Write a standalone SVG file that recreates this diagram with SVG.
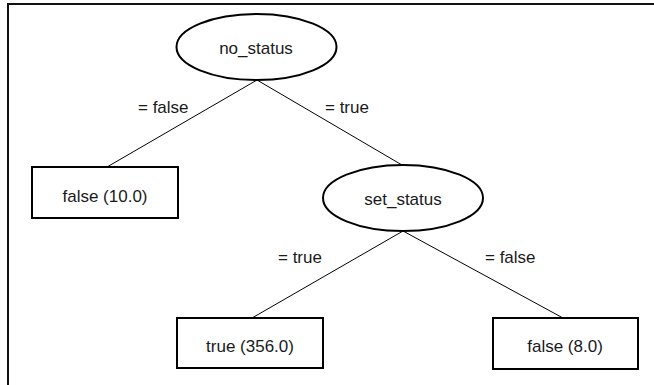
<svg xmlns="http://www.w3.org/2000/svg" width="654" height="385" viewBox="0 0 654 385">
<style>
.shape{fill:#fff;stroke:#000;stroke-width:2}
.edge{stroke:#000;stroke-width:1;fill:none}
text{font-family:"Liberation Sans",Arial,sans-serif;font-size:17px;fill:#1a1a1a}
.c{text-anchor:middle}
</style>
<rect width="654" height="385" fill="#fff"/>
<path d="M8,385 V4 H654" fill="none" stroke="#111" stroke-width="2"/>
<g id="connectors">
<line class="edge" x1="257" y1="80" x2="107" y2="167"/>
<line class="edge" x1="257" y1="80" x2="402" y2="165"/>
<line class="edge" x1="403" y1="231" x2="252" y2="318"/>
<line class="edge" x1="403" y1="231" x2="563" y2="318"/>
<text x="138" y="113">= false</text>
<text x="325" y="113">= true</text>
<text x="278" y="263">= true</text>
<text x="485" y="263">= false</text>
</g>
<g id="no_status">
<ellipse class="shape" cx="256.5" cy="47" rx="80" ry="33"/>
<text class="c" x="256" y="54">no_status</text>
</g>
<g id="set_status">
<ellipse class="shape" cx="403" cy="198" rx="80" ry="33"/>
<text class="c" x="403" y="205">set_status</text>
</g>
<g id="leaf_false_10">
<rect class="shape" x="32" y="167" width="146" height="51"/>
<text class="c" x="105" y="202">false (10.0)</text>
</g>
<g id="leaf_true_356">
<rect class="shape" x="177" y="318" width="146" height="50"/>
<text class="c" x="250" y="352">true (356.0)</text>
</g>
<g id="leaf_false_8">
<rect class="shape" x="493" y="318" width="145" height="51"/>
<text class="c" x="565" y="352">false (8.0)</text>
</g>
</svg>
